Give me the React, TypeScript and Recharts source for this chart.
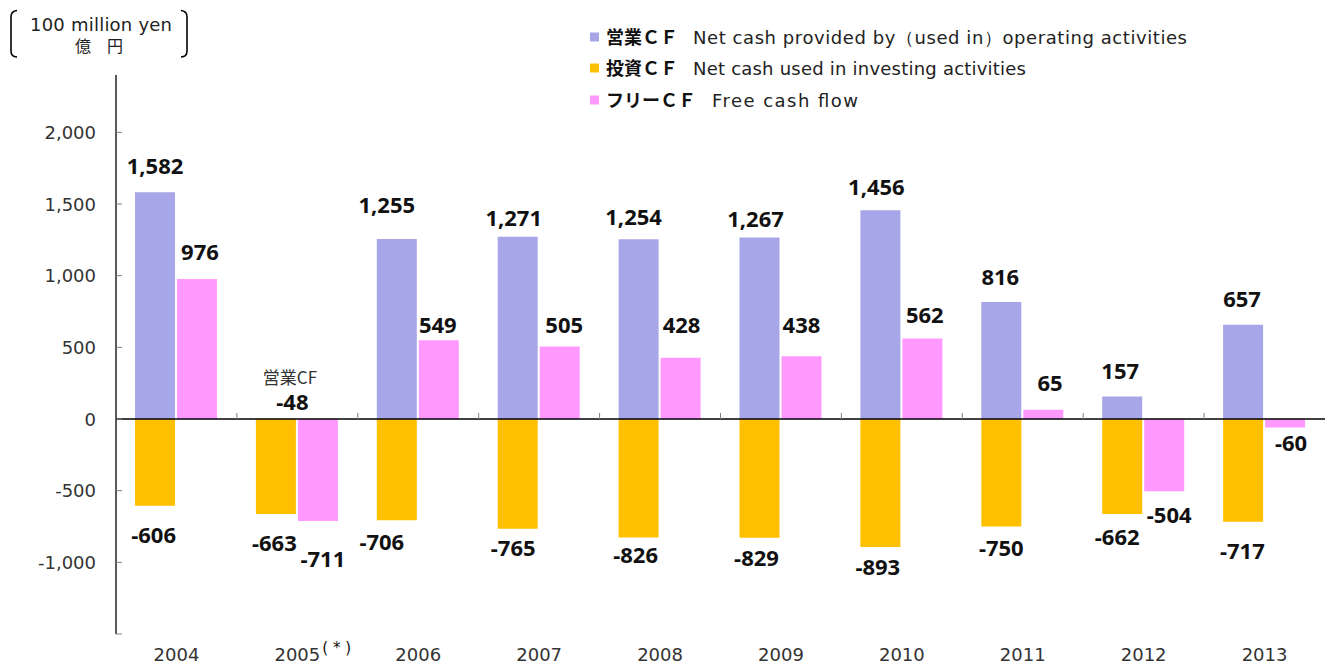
import React from 'react';
import { BarChart, Bar, XAxis, YAxis, ReferenceLine } from 'recharts';

// ---- data ----
const years = ['2004', '2005', '2006', '2007', '2008', '2009', '2010', '2011', '2012', '2013'];
const operatingCF = [1582, -48, 1255, 1271, 1254, 1267, 1456, 816, 157, 657];
const investingCF = [-606, -663, -706, -765, -826, -829, -893, -750, -662, -717];
const freeCF = [976, -711, 549, 505, 428, 438, 562, 65, -504, -60];
const yTicks = [-1500, -1000, -500, 0, 500, 1000, 1500, 2000];
const yDomain = [-1500, 2400];

const data = years.map((year, i) => ({
  year,
  op: operatingCF[i],
  inv: investingCF[i],
  free: freeCF[i],
}));

// ---- styles ----
const PURPLE = '#A6A6E8';
const ORANGE = '#FFC000';
const PINK = '#FF99FF';
const LATIN = '"DejaVu Sans", sans-serif';
const CJK = '"Noto Sans CJK JP", sans-serif';
const BOLD = '"Noto Sans", sans-serif';

// label nudges [dx, distance of text centre from bar end] in px
const opAdjust = [[0, 26], [16.5, 17], [-10, 34], [-4, 19], [-5, 22], [-4, 18.5], [-4, 23], [-1, 25], [-2, 25], [-1, 26]];
const invAdjust = [[-1.4, 28.7], [-1.5, 29], [-15, 21.4], [-4.5, 19], [-3, 18], [-3, 20], [-2.6, 19.7], [0, 21], [-5, 22.7], [-0.7, 28.8]];
const freeAdjust = [[3, 27], [5, 38], [-1, 15.4], [4.5, 21.7], [1, 32.7], [0, 31.2], [2.4, 23.5], [6.7, 26.5], [5, 24], [6, 15.6]];

const fmt = (v: number) => v.toLocaleString('en-US');

const makeLabel = (adjust: number[][], values: number[], isOp = false) => (props: any) => {
  const vb = props.viewBox && typeof props.viewBox.x === 'number' ? props.viewBox : props;
  const { x, y, width, height } = vb;
  const value = props.value;
  if (value === undefined || value === null) return null;
  let index = typeof props.index === 'number' ? props.index : values.indexOf(Number(value));
  if (index < 0) index = 0;
  const top = Math.min(y, y + height);
  const bottom = Math.max(y, y + height);
  const [dx, d] = adjust[index];
  const cx = x + width / 2 + dx;
  if (isOp && value < 0) {
    const cy = top - d;
    return (
      <g>
        <text x={cx - 2.5} y={cy - 24 + 6} textAnchor="middle" fontFamily={CJK} fontSize={17} fill="#333">
          営業CF
        </text>
        <text x={cx} y={cy + 8} textAnchor="middle" fontFamily={BOLD} fontWeight={700} fontSize={22} fill="#111">
          {fmt(value)}
        </text>
      </g>
    );
  }
  const cy = value >= 0 ? top - d : bottom + d;
  return (
    <text x={cx} y={cy + 8} textAnchor="middle" fontFamily={BOLD} fontWeight={700} fontSize={22} fill="#111">
      {fmt(value)}
    </text>
  );
};

const YTick = (props: any) => {
  const { x, y, payload } = props;
  return (
    <g>
      <line x1={x} x2={x + 6} y1={y} y2={y} stroke="#808080" strokeWidth={1} />
      {payload.value !== -1500 && (
        <text x={x - 20} y={y + 6.5} textAnchor="end" fontFamily={LATIN} fontSize={18} fill="#333">
          {fmt(payload.value)}
        </text>
      )}
    </g>
  );
};

const XTick = (props: any) => {
  const { x, y, payload } = props;
  const base = Math.min(y + 27, 661);
  return (
    <g>
      <text x={x} y={base} textAnchor="middle" fontFamily={LATIN} fontSize={18} fill="#333">
        {payload.value}
      </text>
      {payload.value === '2005' && (
        <text x={x + 25} y={base - 8} textAnchor="start" fontFamily={LATIN} fontSize={15} fill="#111">
          ( * )
        </text>
      )}
    </g>
  );
};

const legendRows = [
  { color: PURPLE, jp: '営業ＣＦ', en: 'Net cash provided by（used in）operating activities', cy: 37, enX: 693, len: 494 },
  { color: ORANGE, jp: '投資ＣＦ', en: 'Net cash used in investing activities', cy: 68, enX: 693, len: 333 },
  { color: PINK, jp: 'フリーＣＦ', en: 'Free cash flow', cy: 100, enX: 712, len: 146 },
];

export default function App() {
  return (
    <div style={{ position: 'absolute', left: 0, top: 0, width: 1325, height: 666, background: '#fff' }}>
      <BarChart
        width={1325}
        height={666}
        data={data}
        margin={{ top: 75, right: 0, bottom: 0, left: 0 }}
        barGap={2}
        barSize={40}
      >
        <XAxis
          xAxisId="main"
          dataKey="year"
          axisLine={false}
          tickLine={false}
          tickSize={0}
          tickMargin={0}
          height={32}
          interval={0}
          tick={<XTick />}
        />
        <XAxis xAxisId="inv" dataKey="year" hide />
        <YAxis
          domain={yDomain}
          ticks={yTicks}
          interval={0}
          width={116}
          axisLine={{ stroke: '#000', strokeWidth: 1.3 }}
          tickLine={false}
          tickSize={0}
          tickMargin={0}
          tick={<YTick />}
          allowDataOverflow
        />
        <Bar xAxisId="main" dataKey="op" fill={PURPLE} isAnimationActive={false} label={makeLabel(opAdjust, operatingCF, true)} />
        <Bar xAxisId="main" dataKey="free" fill={PINK} isAnimationActive={false} label={makeLabel(freeAdjust, freeCF)} />
        <Bar xAxisId="inv" dataKey="inv" fill={ORANGE} isAnimationActive={false} label={makeLabel(invAdjust, investingCF)} />
        <Bar xAxisId="inv" dataKey="spacer" fill="none" isAnimationActive={false} />
        <ReferenceLine xAxisId="main" y={0} stroke="#000" strokeWidth={1.3} />
        {years.map((yr) => (
          <ReferenceLine
            key={yr}
            xAxisId="main"
            segment={[{ x: yr, y: 0 }, { x: yr, y: 42 }]}
            position="end"
            stroke="#808080"
            strokeWidth={1}
          />
        ))}
      </BarChart>
      <svg
        width={1325}
        height={666}
        style={{ position: 'absolute', left: 0, top: 0, pointerEvents: 'none' }}
      >
        <path d="M 17 10.5 Q 11 11 11 17 L 11 51 Q 11 57 17 57" stroke="#000" strokeWidth={1.6} fill="none" />
        <path d="M 181 10.5 Q 187 11 187 17 L 187 51 Q 187 57 181 57" stroke="#000" strokeWidth={1.6} fill="none" />
        <text x={101} y={31} textAnchor="middle" fontFamily={LATIN} fontSize={18} fill="#222" textLength={142} lengthAdjust="spacing">
          100 million yen
        </text>
        <text x={99} y={52} textAnchor="middle" fontFamily={CJK} fontSize={16} fill="#222">
          億　円
        </text>
        {legendRows.map((r) => (
          <g key={r.jp}>
            <rect x={590} y={r.cy - 4.5} width={9} height={9} fill={r.color} />
            <text x={606} y={r.cy + 6.5} fontFamily={CJK} fontWeight={700} fontSize={18} fill="#111">
              {r.jp}
            </text>
            <text x={r.enX} y={r.cy + 6.5} fontFamily={LATIN} fontSize={18} fill="#222" textLength={r.len} lengthAdjust="spacing">
              {r.en}
            </text>
          </g>
        ))}
      </svg>
    </div>
  );
}
